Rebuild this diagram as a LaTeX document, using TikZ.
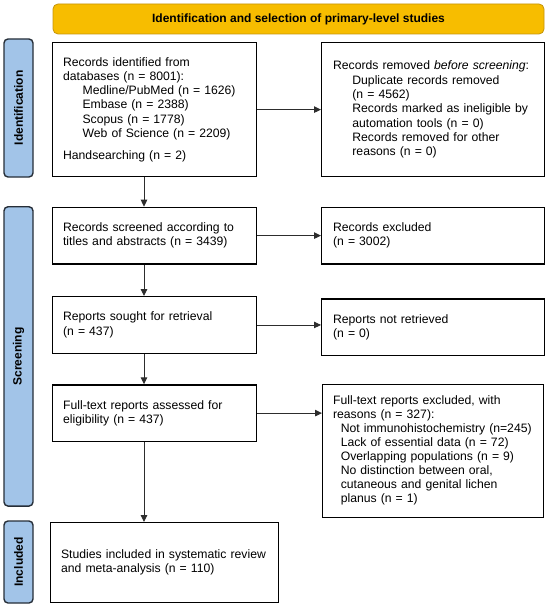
\documentclass[tikz,border=0pt]{standalone}
\usepackage{fontspec}
\setmainfont{Liberation Sans}
\usetikzlibrary{arrows.meta}
\definecolor{bannerfill}{RGB}{247,189,0}
\definecolor{bannerline}{RGB}{196,148,10}
\definecolor{sidefill}{RGB}{162,196,232}
\definecolor{sideline}{RGB}{38,46,56}
\definecolor{arrowcol}{RGB}{45,45,45}
\begin{document}
\begin{tikzpicture}[x=1pt,y=-1pt,
  every node/.style={font=\fontsize{12.2}{14.3}\selectfont},
  flowbox/.style={draw, line width=1.2pt, anchor=north west, align=left,
    inner xsep=10.5pt, inner ysep=2pt, text width=183pt, minimum width=204pt},
  widebox/.style={flowbox, inner xsep=11.5pt, text width=200pt, minimum width=223pt},
  sidebar/.style={draw=sideline, fill=sidefill, line width=1.4pt, rounded corners=4pt,
    rotate=90, minimum height=29pt, inner sep=0pt,
    font=\fontsize{12}{14}\selectfont\bfseries},
  arr/.style={draw=arrowcol, line width=0.9pt, -{Triangle[length=7pt,width=6.5pt]}}
]
\useasboundingbox (0,0) rectangle (550,607);

% banner
\node[draw=bannerline, fill=bannerfill, line width=0.8pt, rounded corners=5pt,
  minimum width=491pt, minimum height=30pt, inner sep=0pt,
  font=\fontsize{12}{14}\selectfont\bfseries] (banner) at (298.5,19)
  {Identification and selection of primary-level studies};

% sidebars
\node[sidebar, minimum width=138pt] (sid) at (18.5,108) {Identification};
\node[sidebar, minimum width=299.3pt] (sscr) at (18.5,356.4) {Screening};
\node[sidebar, minimum width=82pt] (sinc) at (18.5,562) {Included};

% boxes
\node[flowbox, minimum height=134pt] (b1) at (52,42)
  {Records identified from\\
   databases (n = 8001):\\
   \hspace*{19.5pt}Medline/PubMed (n = 1626)\\
   \hspace*{19.5pt}Embase (n = 2388)\\
   \hspace*{19.5pt}Scopus (n = 1778)\\
   \hspace*{19.5pt}Web of Science (n = 2209)\\[7.7pt]
   Handsearching (n = 2)};

\node[widebox, minimum height=134pt] (b2) at (321,42)
  {Records removed \textit{before screening}:\\
   \hspace*{19.3pt}Duplicate records removed\\
   \hspace*{19.3pt}(n = 4562)\\
   \hspace*{19.3pt}Records marked as ineligible by\\
   \hspace*{19.3pt}automation tools (n = 0)\\
   \hspace*{19.3pt}Records removed for other\\
   \hspace*{19.3pt}reasons (n = 0)};

\node[flowbox, minimum height=56.6pt] (b3) at (52,206.7)
  {Records screened according to\\ titles and abstracts (n = 3439)};
\node[widebox, minimum height=56.6pt] (b4) at (321,206.7)
  {Records excluded\\ (n = 3002)};

\node[flowbox, minimum height=56.7pt] (b5) at (52,296)
  {Reports sought for retrieval\\ (n = 437)};
\node[widebox, minimum height=56.7pt] (b6) at (321,298.3)
  {Reports not retrieved\\ (n = 0)};

\node[flowbox, minimum height=56.4pt] (b7) at (52,384.3)
  {Full-text reports assessed for\\ eligibility (n = 437)};
\node[flowbox, inner xsep=10.5pt, text width=200pt, minimum width=221pt,
  minimum height=133.2pt, font=\fontsize{12.2}{14}\selectfont] (b8) at (322,383.5)
  {Full-text reports excluded, with\\
   reasons (n = 327):\\
   \hspace*{7.7pt}Not immunohistochemistry (n=245)\\
   \hspace*{7.7pt}Lack of essential data (n = 72)\\
   \hspace*{7.7pt}Overlapping populations  (n = 9)\\
   \hspace*{7.7pt}No distinction between oral,\\
   \hspace*{7.7pt}cutaneous and genital lichen\\
   \hspace*{7.7pt}planus (n = 1)};

\node[flowbox, text width=207pt, minimum width=228pt, minimum height=79.7pt] (b9) at (50,522)
  {Studies included in systematic review\\ and meta-analysis (n = 110)};

% connectors
\coordinate (ax) at (144,0);
\draw[arr] (b1.south -| ax) -- (b3.north -| ax);
\draw[arr] (b3.south -| ax) -- (b5.north -| ax);
\draw[arr] (b5.south -| ax) -- (b7.north -| ax);
\draw[arr] (b7.south -| ax) -- (b9.north -| ax);

\draw[arr] (b1.east) -- (b1.east -| b2.west);
\draw[arr] (b3.east) -- (b3.east -| b4.west);
\draw[arr] (b5.east) -- (b5.east -| b6.west);
\draw[arr] (b7.east) -- (b7.east -| b8.west);
\end{tikzpicture}
\end{document}
